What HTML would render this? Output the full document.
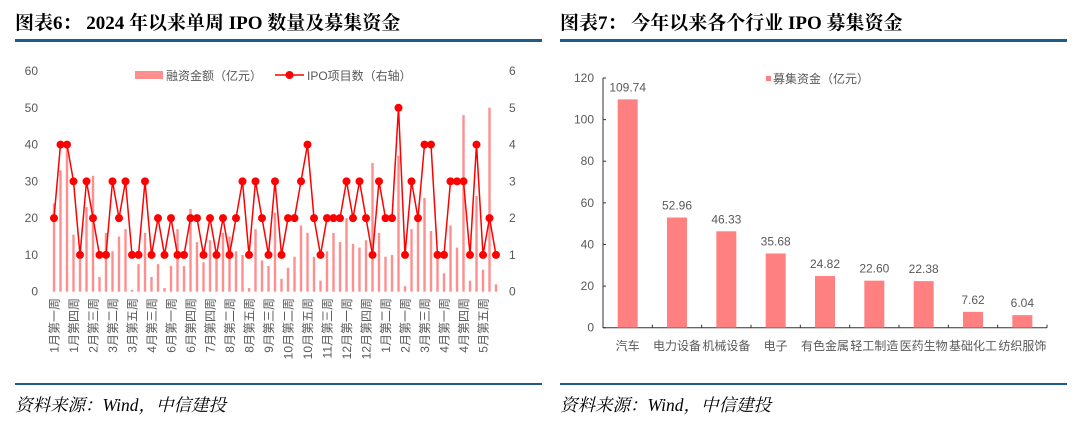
<!DOCTYPE html>
<html><head><meta charset="utf-8">
<style>
html,body{margin:0;padding:0;background:#fff;}
svg{display:block;}
.t{font-family:"Liberation Serif","Noto Serif CJK SC",serif;font-weight:bold;font-size:19px;fill:#000;}
.ax{font-family:"Liberation Sans","Noto Sans CJK SC",sans-serif;font-size:12px;fill:#595959;}
.src{font-family:"Liberation Serif","Noto Serif CJK SC",serif;font-style:italic;font-size:17.5px;fill:#000;}
</style></head><body>
<svg id="root" width="1080" height="423" xmlns="http://www.w3.org/2000/svg">
<text class="t" x="15" y="29">图表6：  2024 年以来单周 IPO 数量及募集资金</text>
<rect x="15" y="39" width="527" height="3" fill="#1f5a8c"/>
<text class="t" x="560" y="29">图表7：  今年以来各个行业 IPO 募集资金</text>
<rect x="560" y="39" width="507" height="3" fill="#1f5a8c"/>
<rect x="15" y="383" width="527" height="2" fill="#1f5a8c"/>
<rect x="560" y="383" width="507" height="2" fill="#1f5a8c"/>
<text class="src" x="15" y="411">资料来源：Wind，中信建投</text>
<text class="src" x="560" y="411">资料来源：Wind，中信建投</text>
<g id="left"></g>
<g id="right"></g>
</svg>
<script>
const weekLabels=["1月第一周","1月第四周","2月第三周","3月第二周","3月第五周","4月第三周","6月第一周","6月第四周","7月第四周","8月第二周","8月第五周","9月第三周","10月第二周","10月第五周","11月第三周","12月第一周","12月第四周","1月第二周","2月第一周","3月第三周","4月第一周","4月第四周","5月第五周"];
const fundAmounts=[24,33,40,15.5,9,23,31.5,4,16,11,15,17,0.5,7.5,16,4,7.5,1,7,17,7,22.5,13.5,8,14,10,16,15,11,10,1,17,8.5,7,21.5,3.5,6.5,9.5,18,16,9.5,3,11,16,13.5,20,13,12,14,35,16,9.5,10,37,1.5,17,20,25.5,16.5,10,5,18,12,48,3,26,6,50,2];
const ipoCounts=[2,4,4,3,1,3,2,1,1,3,2,3,1,1,3,1,2,1,2,1,1,2,2,1,2,1,2,1,2,3,1,3,2,1,3,1,2,2,3,4,2,1,2,2,2,3,2,3,2,1,3,2,2,5,1,3,2,4,4,1,1,3,3,3,1,4,1,2,1];
const leftTicks=[0,10,20,30,40,50,60];
const rightTicks=[0,1,2,3,4,5,6];
const industries=["汽车","电力设备","机械设备","电子","有色金属","轻工制造","医药生物","基础化工","纺织服饰"];
const industryFunds=[109.74,52.96,46.33,35.68,24.82,22.60,22.38,7.62,6.04];
const industryTicks=[0,20,40,60,80,100,120];

const NS="http://www.w3.org/2000/svg";
function mk(p,tag,attrs,txt){const e=document.createElementNS(NS,tag);for(const k in attrs)e.setAttribute(k,attrs[k]);if(txt!==undefined)e.textContent=txt;p.appendChild(e);return e;}

// left chart
const L=document.getElementById('left');
const y0=291.7,yTop=71;
const yL=v=>y0-(v/60)*(y0-yTop);
const yR=v=>y0-(v/6)*(y0-yTop);
const xL=i=>54+i*(442/(ipoCounts.length-1));
leftTicks.forEach(v=>{const t=mk(L,'text',{class:'ax',x:38,y:yL(v)+4,'text-anchor':'end'},String(v));

});
rightTicks.forEach(v=>{const t=mk(L,'text',{class:'ax',x:509,y:yR(v)+4},String(v));

});
fundAmounts.forEach((v,i)=>{const r=mk(L,'rect',{x:xL(i)-1.2,y:yL(v),width:2.4,height:y0-yL(v),fill:'#ff8f8f'});

});
const pts=ipoCounts.map((v,i)=>xL(i).toFixed(1)+','+yR(v).toFixed(1)).join(' ');
const pl=mk(L,'polyline',{points:pts,fill:'none',stroke:'#ff0000','stroke-width':1.5});


ipoCounts.forEach((v,i)=>{const c=mk(L,'circle',{cx:xL(i),cy:yR(v),r:4,fill:'#ff0000'});

});
weekLabels.forEach((s,k)=>{const x=xL(k*3)+4.5;const t=mk(L,'text',{class:'ax',x:0,y:0,'text-anchor':'end',transform:`translate(${x},298) rotate(-90)`,'font-size':'12.5'},s);

});
const lg1=mk(L,'rect',{x:135,y:71,width:28,height:8,fill:'#ff8f8f'});


const lt1=mk(L,'text',{class:'ax',x:166,y:80},'融资金额（亿元）');


const lg2=mk(L,'line',{x1:275,y1:75,x2:304,y2:75,stroke:'#ff0000','stroke-width':1.5});


const lg3=mk(L,'circle',{cx:289.5,cy:75,r:4,fill:'#ff0000'});


const lt2=mk(L,'text',{class:'ax',x:307,y:80},'IPO项目数（右轴）');



// right chart
const R=document.getElementById('right');
const ry0=327.7,ryTop=78,ax0=603,ax1=1047;
const yI=v=>ry0-(v/120)*(ry0-ryTop);
const cw=(ax1-ax0)/industries.length;
const xI=i=>ax0+cw*(i+0.5);
const axl=mk(R,'line',{x1:ax0,y1:ryTop,x2:ax0,y2:ry0,stroke:'#333','stroke-width':1});


const axb=mk(R,'line',{x1:ax0,y1:ry0,x2:ax1,y2:ry0,stroke:'#333','stroke-width':1});


industryTicks.forEach(v=>{const t=mk(R,'text',{class:'ax',x:594,y:yI(v)+4,'text-anchor':'end'},String(v));


mk(R,'line',{x1:ax0,y1:yI(v),x2:ax0+3,y2:yI(v),stroke:'#333'});});
for(let i=0;i<=industries.length;i++){mk(R,'line',{x1:ax0+cw*i,y1:ry0,x2:ax0+cw*i,y2:ry0-3,stroke:'#333'});}
industries.forEach((s,i)=>{
const b=mk(R,'rect',{x:xI(i)-10,y:yI(industryFunds[i]),width:20,height:ry0-yI(industryFunds[i]),fill:'#ff8080'});


const v=mk(R,'text',{class:'ax',x:xI(i),y:yI(industryFunds[i])-8,'text-anchor':'middle','font-size':'11'},industryFunds[i].toFixed(2));


const c=mk(R,'text',{class:'ax',x:xI(i),y:350,'text-anchor':'middle'},s);

});
const rs=mk(R,'rect',{x:766,y:76,width:5,height:5,fill:'#ff8080'});


const rl=mk(R,'text',{class:'ax',x:773,y:83,'font-family':'Liberation Serif, Noto Serif CJK SC, serif'},'募集资金（亿元）');


</script>
</body></html>
